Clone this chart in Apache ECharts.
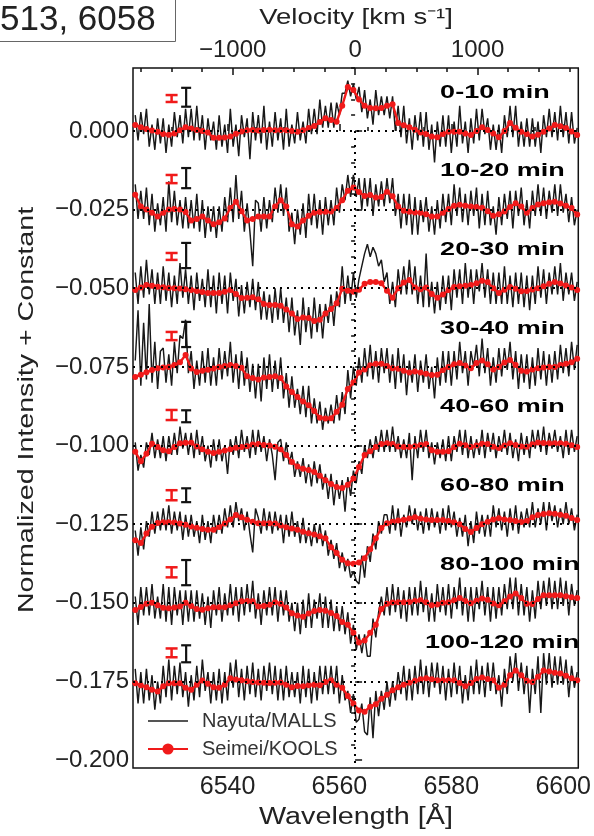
<!DOCTYPE html>
<html><head><meta charset="utf-8">
<script src="https://cdn.jsdelivr.net/npm/echarts@6/dist/echarts.min.js"></script>
<style>html,body{margin:0;padding:0;background:#fff}#c{width:594px;height:836px}</style>
</head><body><div id="c"></div>
<script>
// ---------------- data ----------------
const offsets = [0, -0.025, -0.05, -0.075, -0.1, -0.125, -0.15, -0.175];
const panelLabels = ['0-10 min','10-20 min','20-30 min','30-40 min','40-60 min','60-80 min','80-100 min','100-120 min'];
const yTickValues = [0, -0.025, -0.05, -0.075, -0.1, -0.125, -0.15, -0.175, -0.2];
const xTickValues = [6540, 6560, 6580, 6600];
const vTickValues = [-1000, 0, 1000];
const seriesNames = ['Nayuta/MALLS', 'Seimei/KOOLS'];

// Seimei/KOOLS wavelength grid (Å)
const koolsWave = [6523.5,6524.5,6525.5,6526.5,6527.5,6528.5,6529.5,6530.5,6531.5,6532.5,
6533.5,6534.5,6535.5,6536.5,6537.5,6538.5,6539.5,6540.5,6541.5,6542.5,
6543.5,6544.5,6545.5,6546.5,6547.5,6548.5,6549.5,6550.5,6551.5,6552.5,
6553.5,6554.5,6555.5,6556.5,6557.5,6558.5,6559.5,6560.5,6561.5,6562.5,
6563.5,6564.5,6565.5,6566.5,6567.5,6568.5,6569.5,6570.5,6571.5,6572.5,
6573.5,6574.5,6575.5,6576.5,6577.5,6578.5,6579.5,6580.5,6581.5,6582.5,
6583.5,6584.5,6585.5,6586.5,6587.5,6588.5,6589.5,6590.5,6591.5,6592.5,
6593.5,6594.5,6595.5,6596.5,6597.5,6598.5,6599.5,6600.5,6601.5,6602.5];

// Nayuta/MALLS wavelength grid (Å)
const mallsWave = [6523.5,6524,6524.5,6525,6525.5,6526,6526.5,6527,6527.5,6528,
6528.5,6529,6529.5,6530,6530.5,6531,6531.5,6532,6532.5,6533,
6533.5,6534,6534.5,6535,6535.5,6536,6536.5,6537,6537.5,6538,
6538.5,6539,6539.5,6540,6540.5,6541,6541.5,6542,6542.5,6543,
6543.5,6544,6544.5,6545,6545.5,6546,6546.5,6547,6547.5,6548,
6548.5,6549,6549.5,6550,6550.5,6551,6551.5,6552,6552.5,6553,
6553.5,6554,6554.5,6555,6555.5,6556,6556.5,6557,6557.5,6558,
6558.5,6559,6559.5,6560,6560.5,6561,6561.5,6562,6562.5,6563,
6563.5,6564,6564.5,6565,6565.5,6566,6566.5,6567,6567.5,6568,
6568.5,6569,6569.5,6570,6570.5,6571,6571.5,6572,6572.5,6573,
6573.5,6574,6574.5,6575,6575.5,6576,6576.5,6577,6577.5,6578,
6578.5,6579,6579.5,6580,6580.5,6581,6581.5,6582,6582.5,6583,
6583.5,6584,6584.5,6585,6585.5,6586,6586.5,6587,6587.5,6588,
6588.5,6589,6589.5,6590,6590.5,6591,6591.5,6592,6592.5,6593,
6593.5,6594,6594.5,6595,6595.5,6596,6596.5,6597,6597.5,6598,
6598.5,6599,6599.5,6600,6600.5,6601,6601.5,6602,6602.5];

// KOOLS intensity relative to each panel's constant, in units of 0.001
const kools0 = [1.9,1.2,0.6,0.1,-0.3,-1.0,-1.2,-0.8,0.2,1.2,0.8,0.3,0.0,-0.5,-2.2,-2.2,-2.1,-1.8,-0.9,-0.2,0.2,0.3,0.1,0.3,0.4,0.2,0.3,0.2,0.0,-0.3,0.2,0.9,1.6,2.8,4.0,3.5,2.9,8.0,14.0,13.0,10.0,8.0,7.3,7.2,7.3,8.0,8.5,2.5,1.8,1.2,0.4,-0.5,-1.0,-1.8,-2.0,-1.0,-0.3,-0.3,-0.3,-0.8,-1.3,0.0,1.2,0.3,-0.8,-2.0,0.0,2.5,1.0,-0.3,-1.0,-1.8,-1.2,-0.3,0.8,1.9,1.5,0.9,-0.2,-1.3];
const kools1 = [4.7,1.0,0.0,-1.0,-2.2,-1.0,0.0,0.2,0.0,-0.8,-3.5,-3.0,-2.2,-3.5,-4.7,-4.0,-2.8,0.5,2.5,-0.5,-3.5,-3.0,-2.2,-2.2,-2.2,1.0,3.0,1.0,-4.7,-5.4,-3.5,-2.0,-1.0,-0.8,-0.7,-0.6,0.5,3.0,6.0,7.0,5.6,4.3,4.6,3.8,4.0,5.7,4.2,1.0,-0.4,-0.7,-0.9,-1.0,-1.5,-2.2,-2.2,-1.0,0.2,1.2,1.5,1.2,1.0,0.8,0.6,-0.5,-2.0,-1.5,-0.6,0.8,2.0,1.0,-1.0,0.5,1.6,2.0,2.3,2.5,1.9,1.2,0.5,-1.6];
const kools2 = [-0.6,0.2,1.0,0.8,0.5,0.3,0.1,0.0,-0.1,-0.3,-0.6,-0.9,-1.2,-1.5,-1.5,-1.5,-1.1,-0.6,-1.8,-3.1,-3.0,-2.9,-3.5,-5.0,-5.3,-5.3,-5.6,-6.8,-8.0,-9.8,-9.3,-9.5,-10.4,-10.0,-8.0,-6.6,-4.8,-0.2,-0.8,-1.1,-0.5,1.4,2.0,2.0,1.6,-0.8,-3.0,0.0,1.8,2.6,0.2,-0.3,0.2,-1.8,-3.0,-2.0,-0.6,0.4,0.6,0.8,1.0,1.6,2.4,2.0,0.0,-1.5,-0.5,0.4,-0.2,-1.0,-0.9,-0.4,0.0,0.6,1.4,2.0,1.5,0.9,0.2,-0.6];
const kools3 = [-3.2,-2.5,-1.7,-1.0,-0.4,-0.2,0.0,0.6,1.5,3.8,-0.5,-1.6,-1.2,-0.9,-0.5,0.0,0.3,0.6,0.3,-0.3,-3.0,-3.5,-4.0,-3.4,-3.2,-3.0,-3.5,-6.2,-8.0,-9.6,-11.0,-12.2,-14.0,-16.2,-16.4,-16.3,-14.3,-12.0,-7.0,-5.0,-1.8,-0.8,0.5,1.0,1.0,0.3,-0.4,-0.6,-1.2,-1.8,-1.5,-1.8,-2.2,-2.6,-2.5,-1.0,0.0,0.8,1.2,0.4,-0.4,1.2,2.0,0.8,-0.8,0.0,1.4,2.2,0.6,-1.2,-1.5,-0.8,-0.4,-0.2,0.0,0.0,0.6,1.0,1.5,2.6];
const kools4 = [-2.0,-5.0,-2.6,0.6,-0.5,-1.5,-1.8,-0.5,0.7,0.9,0.9,-0.3,-1.2,-2.0,-2.4,-2.0,-1.6,-1.2,-0.7,-0.5,-0.2,0.3,0.5,0.2,0.0,-0.4,-1.2,-3.0,-5.2,-6.7,-7.4,-7.8,-8.4,-9.6,-11.0,-12.2,-13.2,-13.5,-12.5,-10.5,-6.8,-3.0,-1.8,-0.5,0.5,0.7,0.5,-0.3,-0.5,-0.5,-0.2,0.2,0.5,-1.5,-2.0,-2.0,-1.8,-0.5,0.6,0.1,-0.5,0.0,0.6,0.5,-0.4,-0.8,0.0,0.7,0.2,-0.3,-0.4,0.4,1.0,0.8,0.7,0.7,0.7,0.6,0.1,-0.5];
const kools5 = [-5.1,-6.0,-3.0,-0.8,0.4,0.6,0.6,0.5,0.2,-0.2,-0.7,-1.1,-1.5,-1.8,-1.8,-0.9,0.2,1.5,2.9,2.2,1.4,0.8,0.3,0.3,0.3,0.2,-0.4,-1.0,-1.4,-1.8,-2.4,-2.9,-3.3,-3.8,-4.5,-7.3,-9.2,-11.3,-12.4,-12.6,-12.2,-10.8,-8.0,-4.5,-1.2,0.3,0.8,1.2,1.4,1.8,2.2,1.8,1.5,1.3,1.3,1.3,1.0,0.6,0.0,-1.5,-2.5,-1.2,0.0,0.8,1.5,1.9,1.5,1.3,1.0,0.7,1.0,2.2,2.9,3.2,3.5,3.3,3.0,2.7,2.0,1.3];
const kools6 = [-2.3,-1.3,-0.3,0.0,-0.8,-1.6,-1.7,-1.5,-1.2,0.0,-1.0,-2.0,-2.2,-1.7,-1.4,-1.4,-1.4,-0.8,-0.1,0.5,0.6,0.5,-1.2,-1.0,-0.6,0.2,-0.3,-1.5,-3.3,-4.0,-4.4,-3.4,-2.6,-2.3,-2.5,-3.2,-4.2,-6.1,-7.0,-9.5,-12.6,-12.0,-9.5,-7.0,-2.0,-0.3,0.1,0.2,0.2,0.3,0.6,0.8,0.2,-0.8,-0.5,0.0,0.2,0.8,1.5,0.6,-0.1,0.7,1.4,1.0,-0.2,-0.8,0.5,2.0,3.0,1.5,-0.3,-0.4,1.2,2.4,2.4,2.4,2.4,2.1,1.8,1.5];
const kools7 = [-0.6,-1.2,-1.8,-2.6,-3.2,-1.5,-0.6,-0.6,-0.6,-2.0,-2.6,-1.0,0.3,-0.7,-1.8,-2.0,-1.0,1.0,0.6,0.4,0.1,-0.2,-0.3,-0.4,-0.5,-0.4,-0.3,-1.0,-1.8,-1.4,-1.5,-1.2,-1.0,-1.2,-0.2,0.4,-1.0,-2.0,-4.6,-7.0,-9.2,-9.6,-8.0,-7.2,-5.5,-4.2,-2.8,-1.8,-1.0,-0.4,0.2,0.7,1.0,0.7,0.4,0.4,0.4,0.4,-0.5,-1.5,-0.5,0.8,1.3,0.8,0.4,-2.0,-1.0,2.0,3.5,2.0,0.2,-0.2,1.5,3.5,3.2,2.8,2.5,1.8,1.0,0.4];

// MALLS intensity relative to each panel's constant, in units of 0.001
const malls0 = [5,-3,6,-1,7,-5,2,-6,4,-4, 4,-7,2,-5,6,-2,5,-4,7,-2, 7,-3,8,-3,5,-6,4,-3,3,-6, 5,-5,2,-7,7,-5,2,-8,5,-2, 4,-9,6,-3,5,-4,8,-6,3,-5, 6,-3,4,-6,7,-5,2,-4,6,-3, 3,-4,7,-1,7,-1,10,1,8,1, 9,1,9,5,12,12,16,11,15,10, 14,6,13,4,10,2,13,5,11,5, 11,4,11,0,8,-2,8,-4,4,-6, 5,-3,6,-5,6,-6,2,-10,3,-5, 5,-5,5,-7,3,-5,8,-4,3,-7, 4,-4,7,-3,7,-1,4,-6,2,-6, 2,-7,5,-2,8,-2,8,-5,3,-5, 4,-5,4,-5,3,-7,5,-2,7,-2, 6,-3,8,-2,6,-4,6,-4,1];
const malls1 = [8,-3,6,-3,7,-5,5,-7,2,-5, 4,-7,9,-4,6,-5,3,-6,4,-6, 3,-6,5,-7,3,-9,1,-7,1,-9, 1,-7,4,-4,7,-4,11,-3,6,-7, 2,-7,-18,3,2,-7,4,-6,3,-4, 7,-1,8,-2,7,-7,-1,-11,0,-8, 2,-9,5,-5,5,-6,3,-8,4,-5, 3,-5,7,-1,8,3,11,4,11,4, 10,0,10,1,10,-2,8,1,9,1, 10,2,10,-2,5,-6,5,-5,5,-8, 4,-8,3,-4,4,-7,1,-8,3,-6, 5,-4,5,-5,8,-2,7,-4,5,-5, 6,-2,7,-6,5,-5,6,-5,1,-8, 4,-5,5,-3,6,-6,6,-2,7,-5, 3,-6,6,-2,8,-2,7,-3,6,-1, 8,-2,8,-1,5,-4,4,-5,0];
const malls2 = [5,-5,7,-3,9,-2,6,-5,5,-5, 7,-4,5,-6,4,-5,8,-3,6,-5, 4,-7,5,-4,3,-6,6,-6,4,-8, 5,-5,4,-8,5,-4,3,-9,1,-8, 2,-6,3,-7,2,-10,-1,-10,-2,-11, 0,-10,0,-11,-3,-14,-3,-15,-7,-18, -3,-14,-6,-16,-3,-14,-5,-16,-5,-11, -2,-12,-1,-6,7,-5,4,-4,5,-3, 3,7,11,14,10,13,11,7,9,2, 5,-5,2,-6,6,-2,7,-2,9,-2, 7,-5,4,-6,11,-6,2,-8,2,-7, 4,-5,4,-7,6,-3,6,-5,8,-3, 6,-5,6,-1,8,-3,6,-5,5,-5, 5,-5,7,-5,4,-6,5,-5,5,-6, 4,-7,4,-5,7,-3,6,-5,5,-2, 7,-2,8,-4,5,-2,5,-4,2];
const malls3 = [2,18,-6,14,-4,20,-5,8,-7,5, 6,-5,4,-6,8,-2,10,9,15,-2, 5,-7,2,-6,5,-5,6,-6,3,-6, 6,-4,5,-3,8,-5,4,-7,5,-6, 3,-8,1,-10,1,-11,3,-7,4,-8, 2,-7,3,-10,-2,-13,-3,-13,-7,-15, -6,-16,-6,-18,-10,-18,-11,-20,-13,-18, -12,-18,-9,-17,-8,-15,-1,-10,0,-6, 3,-5,6,-3,7,-4,5,-5,6,-2, 6,-5,4,-7,6,-5,4,-9,2,-5, 4,-8,2,-5,4,-7,0,-10,3,-6, 5,-5,5,-6,5,-4,8,-2,5,-6, 5,0,7,-3,9,-2,6,-6,3,-5, 6,-3,6,-1,8,-4,5,-7,4,-5, 4,-7,3,-6,6,-4,5,-6,4,-5, 5,-4,7,-2,6,-3,8,-1,7];
const malls4 = [1,-8,-3,-7,1,-3,4,-4,2,-4, 3,-5,3,-3,4,-3,6,-1,4,-3, 4,-4,5,-3,3,-5,0,-7,2,-5, 2,-5,0,-9,2,-3,3,-4,5,-2, 3,-4,5,-3,5,-2,3,-5,2,-3, -11,1,2,-5,1,-6,-2,-10,-5,-10, -4,-12,-6,-13,-5,-12,-6,-14,-9,-17, -9,-19,-11,-17,-11,-21,-10,-16,-8,-12, -5,-9,0,-4,2,-4,3,-2,5,-2, 5,-2,6,-2,3,-4,2,-4,4,-11, 3,-4,5,-2,5,-4,1,-6,1,-4, 2,-5,3,-5,3,-2,5,-3,5,-4, 3,-4,2,-3,5,-4,4,-2,4,-4, 3,-2,5,-3,4,-4,2,-5,4,-3, 3,-4,5,-1,5,-2,6,-3,4,-1, 5,-2,3,-4,5,-3,5,-2,3];
const malls5 = [-2,-10,-1,-8,1,-4,4,-3,4,-2, 5,-2,6,-3,4,-2,4,-5,3,-4, 3,-4,1,-6,3,-5,1,-6,3,-3, 3,-3,5,-1,6,-1,7,1,5,-2, 4,-3,-9,5,2,-3,5,-2,4,-3, 4,-2,3,-6,3,-4,4,-4,1,-6, 2,-6,-1,-7,0,-6,0,-7,-2,-10, -5,-11,-6,-14,-9,-15,-11,-17,-15,-18, -19,-10,-17,-7,-12,-3,-8,1,-3,3, 3,-3,6,-2,5,-4,3,-1,6,0, 5,-2,4,-3,5,-2,5,-1,4,-3, 5,-2,6,-1,4,-4,2,-4,3,-7, 1,-6,4,-3,3,-4,3,-4,6,-1, 5,-2,4,-4,5,-2,6,-3,4,-1, 5,-1,7,-1,5,0,7,-2,7,1, 6,-1,5,0,7,0,5,-2,3];
const malls6 = [2,-7,5,-4,5,-4,6,-5,2,-5, 6,-6,5,-7,5,-4,4,-7,4,-6, 4,-6,4,-5,3,-7,2,-8,4,-4, 5,-6,3,-4,6,-4,5,-6,5,-4, 6,-3,7,-5,3,-7,4,-4,5,-4, 5,-6,4,-4,4,-6,0,-9,0,-10, 1,-8,3,-8,1,-5,3,-8,2,-8, 1,-9,-1,-9,-1,-10,-3,-13,-7,-15, -10,-16,-10,-17,-17,-5,-11,-3,2,-4, 5,-4,6,-3,5,-5,4,-6,5,-4, 5,-4,7,-3,5,-6,3,-6,6,-3, 5,-4,6,-5,5,-2,8,-4,5,-6, 5,-6,5,-2,7,-4,5,-6,5,-5, 5,-4,6,-2,8,-2,8,-4,6,-4, 5,-6,4,-5,7,-2,7,-1,8,-2, 7,-2,8,-1,7,-4,6,-1,4];
const malls7 = [4,-7,3,-7,4,-6,2,-9,0,-7, 5,-5,7,-6,5,-4,6,-5,3,-8, 2,-6,5,-5,7,-3,3,-7,3,-6, 4,-7,3,-6,6,-2,7,-5,4,-6, 5,-4,6,-5,4,-6,5,-3,6,-4, 5,-6,4,-6,5,-5,3,-5,3,-7, 5,-5,4,-7,3,-6,5,-4,5,-4, 5,-4,5,-7,2,-6,-3,-10,-4,-13, -12,-7,-16,-17,-5,-18,-3,-11,-3,-9, 0,-8,0,-6,3,-4,5,-6,4,-6, 5,-4,7,-4,5,-5,6,-2,6,-4, 5,-6,4,-5,6,-4,5,-7,2,-6, 5,-4,7,-4,5,-5,6,-3,6,-4, 2,-8,4,-4,8,0,9,-3,6,-4, 5,-10,4,-4,8,-10,9,-1,9,-2, 8,-1,8,-1,7,-5,5,-2,3];

const koolsDev = [kools0,kools1,kools2,kools3,kools4,kools5,kools6,kools7];
const mallsDev = [malls0,malls1,malls2,malls3,malls4,malls5,malls6,malls7];

// error bars: [centre above constant, half length] in units of 0.001
const mallsErrCentre = [10.7, 10.0, 10.4, 10.3, 9.3, 9.2, 9.6, 8.8];
const mallsErrHalf   = [3.0, 3.2, 4.0, 4.0, 1.9, 2.2, 4.0, 2.7];
const koolsErrCentre = [10.3, 9.7, 10.1, 9.8, 9.7, 9.2, 9.7, 9.1];
const koolsErrHalf   = [1.1, 1.3, 1.1, 1.3, 1.6, 1.6, 1.6, 1.4];
const MALLS_ERR_X = 6532.6, KOOLS_ERR_X = 6530.0;

// ---------------- layout ----------------
const FONT = '"Liberation Sans", Arial, Helvetica, sans-serif';
const X_MIN = 6523.1, X_MAX = 6602.7, Y_MIN = -0.2025, Y_MAX = 0.020;
const C_KMS = 299792.458, HALPHA = 6562.8;
const V_MIN = (X_MIN / HALPHA - 1) * C_KMS, V_MAX = (X_MAX / HALPHA - 1) * C_KMS;
const GRID = {left: 133, right: 13, top: 68, bottom: 68};
const BLACK = '#181818', RED = '#f01a1a';

const minorX = []; for (let w = 6525; w <= 6600; w += 5) if (w % 20 !== 0) minorX.push(w);
const minorV = []; for (let v = -1750; v <= 1750; v += 250) if (v % 1000 !== 0) minorV.push(v);
const minorY = []; for (let i = -40; i <= 4; i++) { if (i % 5 !== 0) minorY.push(i * 0.005); }

const series = [];
offsets.forEach((off, k) => {
  series.push({
    type: 'line', name: seriesNames[0], xAxisIndex: 0, yAxisIndex: 0,
    data: mallsWave.map((w, i) => [w, off + mallsDev[k][i] / 1000]),
    symbol: 'none', lineStyle: {color: BLACK, width: 1.45}, z: 2, silent: true
  });
});
offsets.forEach((off, k) => {
  series.push({
    type: 'line', name: seriesNames[1], xAxisIndex: 0, yAxisIndex: 0,
    data: koolsWave.map((w, i) => [w, off + koolsDev[k][i] / 1000]),
    symbol: 'circle', symbolSize: 6, showSymbol: true,
    itemStyle: {color: RED}, lineStyle: {color: RED, width: 2.4}, z: 4, silent: true
  });
});
// dotted reference lines
series.push({
  type: 'line', name: 'refs', data: [], xAxisIndex: 0, yAxisIndex: 0, z: 3,
  markLine: {
    silent: true, symbol: ['none', 'none'], label: {show: false}, animation: false, precision: 6,
    lineStyle: {color: '#000', type: [2, 5], width: 2},
    data: offsets.map(o => ({yAxis: o})).concat([[{coord: [HALPHA, 0]}, {coord: [HALPHA, Y_MIN]}]])
  }
});
// error bars
function errSeries(xv, centres, halves, color, lw, capW) {
  return {
    type: 'custom', xAxisIndex: 0, yAxisIndex: 0, z: 6, silent: true,
    data: offsets.map((o, k) => [xv, o + centres[k] / 1000, halves[k] / 1000]),
    renderItem: (params, api) => {
      const x = api.value(0), y = api.value(1), h = api.value(2);
      const t = api.coord([x, y + h]), b = api.coord([x, y - h]);
      const st = {stroke: color, lineWidth: lw};
      return {type: 'group', children: [
        {type: 'line', shape: {x1: t[0], y1: t[1], x2: b[0], y2: b[1]}, style: st},
        {type: 'line', shape: {x1: t[0] - capW, y1: t[1], x2: t[0] + capW, y2: t[1]}, style: st},
        {type: 'line', shape: {x1: b[0] - capW, y1: b[1], x2: b[0] + capW, y2: b[1]}, style: st}
      ]};
    }
  };
}
series.push(errSeries(MALLS_ERR_X, mallsErrCentre, mallsErrHalf, '#111', 2.2, 5));
series.push(errSeries(KOOLS_ERR_X, koolsErrCentre, koolsErrHalf, RED, 2.5, 6));
// panel labels
series.push({
  type: 'custom', xAxisIndex: 0, yAxisIndex: 0, z: 8, silent: true,
  data: offsets.map((o, k) => [k === 7 ? 6575.3 : 6578.0, o + 0.0121, k]),
  renderItem: (params, api) => {
    const p = api.coord([api.value(0), api.value(1)]);
    return {type: 'text', x: p[0], y: p[1], scaleX: 1.5,
      style: {text: panelLabels[api.value(2)], fontFamily: FONT, fontSize: 18, fontWeight: 'bold', fill: '#000',
        align: 'left', verticalAlign: 'middle', textAlign: 'left', textVerticalAlign: 'middle'}};
  }
});

const chart = echarts.init(document.getElementById('c'), null, {renderer: 'canvas'});
chart.setOption({
  animation: false,
  backgroundColor: '#fff',
  grid: Object.assign({show: true, borderColor: '#111', borderWidth: 1.5, backgroundColor: 'transparent'}, GRID),
  legend: {
    left: 142, top: 706, orient: 'vertical', itemWidth: 40, itemHeight: 14, itemGap: 8, z: 10,
    data: [{name: seriesNames[0], icon: 'path://M0,0H40V2H0Z', itemStyle: {color: '#555'}},
           {name: seriesNames[1]}],
    textStyle: {fontFamily: FONT, fontSize: 20, color: '#333', padding: [0, 0, 0, 9]},
    selectedMode: false
  },
  xAxis: [
    {type: 'value', position: 'bottom', min: X_MIN, max: X_MAX, splitLine: {show: false},
     axisLine: {show: false},
     axisTick: {inside: true, length: 7, customValues: xTickValues, lineStyle: {color: '#111', width: 1.5}},
     axisLabel: {customValues: xTickValues, fontFamily: FONT, fontSize: 25, color: '#222', margin: 7,
       formatter: v => String(v)}},
    {type: 'value', position: 'bottom', min: X_MIN, max: X_MAX, splitLine: {show: false},
     axisLine: {show: false}, axisLabel: {show: false},
     axisTick: {inside: true, length: 4, customValues: minorX, lineStyle: {color: '#111', width: 1.5}}},
    {type: 'value', position: 'top', min: V_MIN, max: V_MAX, splitLine: {show: false},
     axisLine: {show: false},
     axisTick: {inside: true, length: 7, customValues: vTickValues, lineStyle: {color: '#111', width: 1.5}},
     axisLabel: {customValues: vTickValues, fontFamily: FONT, fontSize: 24, color: '#222', margin: 6,
       formatter: v => (v < 0 ? '\u2212' : '') + String(Math.abs(v))}},
    {type: 'value', position: 'top', min: V_MIN, max: V_MAX, splitLine: {show: false},
     axisLine: {show: false}, axisLabel: {show: false},
     axisTick: {inside: true, length: 4, customValues: minorV, lineStyle: {color: '#111', width: 1.5}}}
  ],
  yAxis: [
    {type: 'value', min: Y_MIN, max: Y_MAX, splitLine: {show: false}, axisLine: {show: false},
     axisTick: {inside: true, length: 7, customValues: yTickValues, lineStyle: {color: '#111', width: 1.5}},
     axisLabel: {customValues: yTickValues, fontFamily: FONT, fontSize: 24, color: '#222', margin: 4,
       formatter: v => (v < -1e-9 ? '\u2212' : '') + Math.abs(v).toFixed(3)}},
    {type: 'value', min: Y_MIN, max: Y_MAX, splitLine: {show: false}, axisLine: {show: false},
     axisLabel: {show: false},
     axisTick: {inside: true, length: 4, customValues: minorY, lineStyle: {color: '#111', width: 1.5}}}
  ],
  graphic: [
    {type: 'rect', left: -1, top: -1, shape: {width: 176, height: 42}, style: {fill: '#fff', stroke: '#666', lineWidth: 1}, z: 20},
    {type: 'text', x: 0, y: 20, z: 21, style: {text: '513, 6058', font: '35px ' + FONT, fill: '#222', verticalAlign: 'middle', textVerticalAlign: 'middle'}},
    {type: 'text', x: 356, y: 18, scaleX: 1.25, z: 21, style: {text: 'Velocity [km s\u207B\u00B9]', font: '22px ' + FONT, fill: '#222', align: 'center', textAlign: 'center', verticalAlign: 'middle', textVerticalAlign: 'middle'}},
    {type: 'text', x: 356, y: 818, scaleX: 1.25, z: 21, style: {text: 'Wavelength [\u00C5]', font: '23px ' + FONT, fill: '#222', align: 'center', textAlign: 'center', verticalAlign: 'middle', textVerticalAlign: 'middle'}},
    {type: 'text', x: 27, y: 410, rotation: Math.PI / 2, scaleX: 1.3, z: 21, style: {text: 'Normalized Intensity + Constant', font: '22px ' + FONT, fill: '#222', align: 'center', textAlign: 'center', verticalAlign: 'middle', textVerticalAlign: 'middle'}}
  ],
  series: series
});
</script></body></html>
